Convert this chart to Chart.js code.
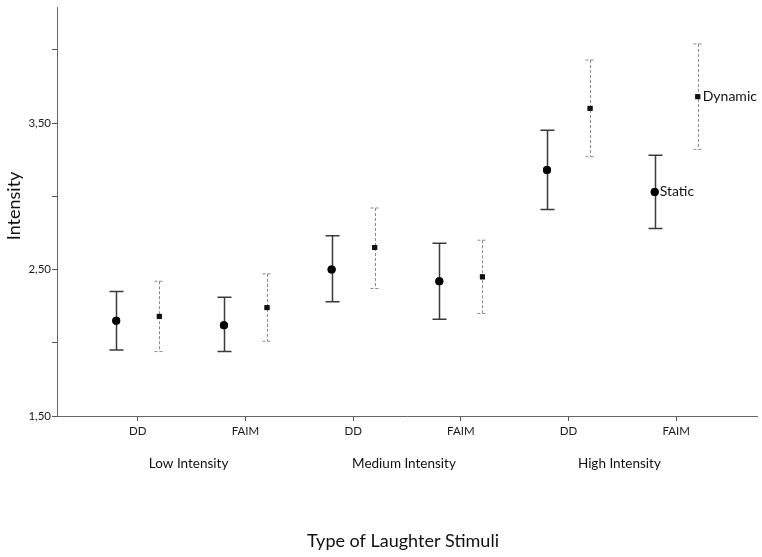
<!DOCTYPE html>
<html>
<head>
<meta charset="utf-8">
<script src="https://cdn.jsdelivr.net/npm/chart.js@4"></script>
<style>
  html, body { margin: 0; padding: 0; background: #fff; }
  canvas { display: block; }
</style>
</head>
<body>
<canvas id="chart" width="762" height="557"></canvas>
<script>
// categories
var catLabels = ['DD', 'FAIM', 'DD', 'FAIM', 'DD', 'FAIM'];
var groupLabels = ['Low Intensity', 'Medium Intensity', 'High Intensity'];

// series values (mean and error bar bounds)
var staticMean = [2.15, 2.12, 2.50, 2.42, 3.18, 3.03];
var staticLow = [1.95, 1.94, 2.28, 2.16, 2.91, 2.78];
var staticHigh = [2.35, 2.31, 2.73, 2.68, 3.45, 3.28];
var dynamicMean = [2.18, 2.24, 2.65, 2.45, 3.60, 3.68];
var dynamicLow = [1.94, 2.01, 2.37, 2.20, 3.27, 3.32];
var dynamicHigh = [2.42, 2.47, 2.92, 2.70, 3.93, 4.04];

// y tick values; only some carry a label
var yTicks = [1.5, 2.0, 2.5, 3.0, 3.5, 4.0];
var yLabeled = [1.5, 2.5, 3.5];

var FONT = 'Lato, "Open Sans", sans-serif';

function points(values, shift) {
    return values.map(function(v, i) { return { x: i + 1 + shift, y: v }; });
}

/**
 * Error bars, series end labels and the group / axis titles.
 */
var extras = {
    id: 'extras',
    afterDatasetsDraw: function(chart) {
        var ctx = chart.ctx,
            x = chart.scales.x,
            y = chart.scales.y,
            bars = [
                { low: staticLow, high: staticHigh, color: '#3a3a3a', width: 1.5, dash: [], cap: 7 },
                { low: dynamicLow, high: dynamicHigh, color: '#8a8a8a', width: 1, dash: [3, 2], cap: 5 }
            ];

        ctx.save();
        bars.forEach(function(b, d) {
            var meta = chart.getDatasetMeta(d);
            ctx.strokeStyle = b.color;
            ctx.lineWidth = b.width;
            ctx.setLineDash(b.dash);
            meta.data.forEach(function(pt, i) {
                var px = Math.round(pt.x) + 0.5,
                    top = y.getPixelForValue(b.high[i]),
                    bottom = y.getPixelForValue(b.low[i]);
                ctx.beginPath();
                ctx.moveTo(px, top);
                ctx.lineTo(px, bottom);
                ctx.moveTo(px - b.cap, top);
                ctx.lineTo(px + b.cap, top);
                ctx.moveTo(px - b.cap, bottom);
                ctx.lineTo(px + b.cap, bottom);
                ctx.stroke();
            });
        });
        ctx.setLineDash([]);

        // redraw markers on top of the bars
        [0, 1].forEach(function(d) {
            chart.getDatasetMeta(d).data.forEach(function(el) { el.draw(ctx); });
        });

        // series names next to the last points
        ctx.fillStyle = '#111';
        ctx.font = '14px ' + FONT;
        ctx.textAlign = 'left';
        ctx.textBaseline = 'middle';
        var lastS = chart.getDatasetMeta(0).data[5],
            lastD = chart.getDatasetMeta(1).data[5];
        ctx.fillText('Static', lastS.x + 5, lastS.y);
        ctx.fillText('Dynamic', lastD.x + 5, lastD.y);

        // group labels under the category ticks
        ctx.textAlign = 'center';
        ctx.font = '13.5px ' + FONT;
        groupLabels.forEach(function(g, i) {
            ctx.fillText(g, x.getPixelForValue(i * 2 + 1.5) - 3, 464);
        });

        // axis titles
        ctx.font = '18px ' + FONT;
        ctx.fillText('Type of Laughter Stimuli', (chart.chartArea.left + chart.chartArea.right) / 2 - 4, 541);
        ctx.translate(14, (chart.chartArea.top + chart.chartArea.bottom) / 2 - 6);
        ctx.rotate(-Math.PI / 2);
        ctx.fillText('Intensity', 0, 0);
        ctx.restore();
    }
};

new Chart(document.getElementById('chart').getContext('2d'), {
    type: 'line',
    data: {
        datasets: [{
            label: 'Static',
            data: points(staticMean, -0.2),
            showLine: false,
            pointStyle: 'circle',
            pointRadius: 4,
            backgroundColor: '#000',
            borderColor: '#000',
            borderWidth: 0
        }, {
            label: 'Dynamic',
            data: points(dynamicMean, 0.2),
            showLine: false,
            pointStyle: 'rect',
            pointRadius: 3.5,
            backgroundColor: '#111',
            borderColor: '#111',
            borderWidth: 0
        }]
    },
    options: {
        responsive: false,
        animation: false,
        events: [],
        layout: { padding: { top: 5, right: 5, left: 0, bottom: 0 } },
        plugins: {
            legend: { display: false },
            tooltip: { enabled: false }
        },
        scales: {
            x: {
                type: 'linear',
                min: 0.25,
                max: 6.75,
                afterBuildTicks: function(scale) {
                    scale.ticks = catLabels.map(function(c, i) { return { value: i + 1 }; });
                },
                afterFit: function(scale) { scale.height = 141; },
                ticks: {
                    autoSkip: false,
                    maxRotation: 0,
                    padding: 3,
                    color: '#1a1a1a',
                    font: { family: FONT, size: 11.5 },
                    callback: function(v) { return catLabels[Math.round(v) - 1]; }
                },
                grid: { drawOnChartArea: false, drawTicks: true, tickLength: 5, color: '#555' },
                border: { color: '#666', width: 1 }
            },
            y: {
                min: 1.5,
                max: 4.286,
                afterBuildTicks: function(scale) {
                    scale.ticks = yTicks.map(function(v) { return { value: v }; });
                },
                afterFit: function(scale) { scale.width = 57; },
                ticks: {
                    autoSkip: false,
                    padding: 1,
                    color: '#1a1a1a',
                    font: { family: FONT, size: 11.5 },
                    callback: function(v) {
                        return yLabeled.indexOf(v) >= 0 ? v.toFixed(2).replace('.', ',') : '';
                    }
                },
                grid: { drawOnChartArea: false, drawTicks: true, tickLength: 5, color: '#555' },
                border: { color: '#666', width: 1 }
            }
        }
    },
    plugins: [extras]
});
</script>
</body>
</html>
